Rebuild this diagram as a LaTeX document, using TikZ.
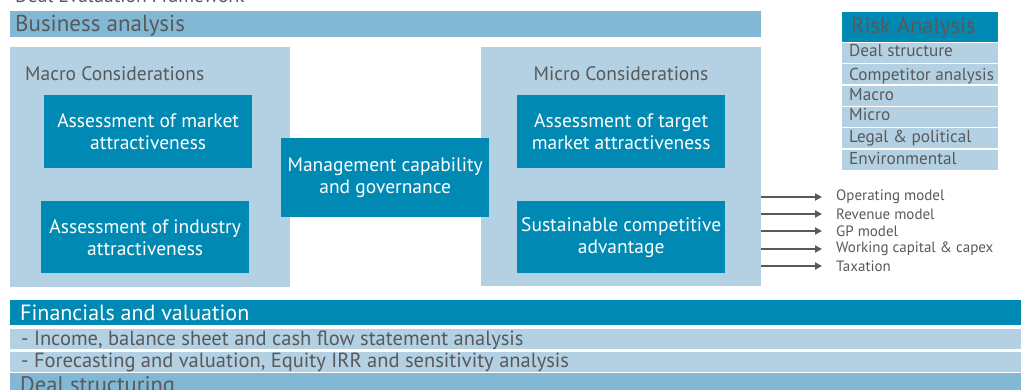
\documentclass[tikz,border=0pt]{standalone}
\usepackage{fontspec}
\setmainfont{PT Sans}
\definecolor{barblue}{HTML}{82B8D4}
\definecolor{paleblue}{HTML}{B3D1E2}
\definecolor{deepblue}{HTML}{0089B3}
\definecolor{inkgrey}{HTML}{58595B}
\newcommand{\fs}[1]{\fontsize{#1}{22}\selectfont}
\tikzset{
  bar/.style={fill=barblue,inner sep=0pt,anchor=north west},
  pale/.style={fill=paleblue,inner sep=0pt,anchor=north west},
  deep/.style={fill=deepblue,inner sep=0pt,anchor=north west},
  boxtext/.style={text=white,align=center,font=\fs{19.5}},
  lbl/.style={text=inkgrey,inner sep=0pt,anchor=base west},
  flow/.style={draw=inkgrey,line width=2.6pt,-{Triangle[length=7pt,width=7pt]},shorten >=14pt}
}
\usetikzlibrary{arrows.meta}
\begin{document}
\begin{tikzpicture}[x=1pt,y=-1pt]
\clip (0,0) rectangle (1021,390);
\useasboundingbox (0,0) rectangle (1021,390);
% heading, cut off by the top edge
\node[lbl,font=\fs{19.5}] (title) at (15,3) {Deal Evaluation Framework};
% business analysis block
\node[bar,minimum width=751pt,minimum height=26pt] (busbar) at (10,11) {};
\node[lbl,font=\fs{23}] (bus) at (15,32) {Business analysis};
\node[pale,minimum width=280pt,minimum height=240pt] (macro) at (10,47) {};
\node[pale,minimum width=280pt,minimum height=239pt] (micro) at (481,47) {};
\node[lbl,font=\fs{19.5}] (macrot) at (25,81) {Macro Considerations};
\node[lbl,font=\fs{19.5},anchor=base] (microt) at (621,81) {Micro Considerations};
\node[deep,minimum width=208pt,minimum height=73pt] (mkt) at (44,95) {};
\node[boxtext] at (mkt.center) {Assessment of market\\attractiveness};
\node[deep,minimum width=208pt,minimum height=72pt] (ind) at (41,201) {};
\node[boxtext] at (ind.center) {Assessment of industry\\attractiveness};
\node[deep,minimum width=208pt,minimum height=79pt] (mgmt) at (281,138) {};
\node[boxtext] at (mgmt.center) {Management capability\\and governance};
\node[deep,minimum width=208pt,minimum height=73pt] (tgt) at (517,95) {};
\node[boxtext] at (tgt.center) {Assessment of target\\market attractiveness};
\node[deep,minimum width=208pt,minimum height=72pt] (sca) at (517,201) {};
\node[boxtext] at (sca.center) {Sustainable competitive\\advantage};
% model outputs
\foreach \y/\n/\t in {197/op/Operating model,214/rev/Revenue model,231/gp/GP model,
    249/wc/Working capital \& capex,266/tax/Taxation}{
  \node[lbl,anchor=west,font=\fs{15}] (\n) at (836,\y) {\t};
  \draw[flow] (micro.east |- \n.west) -- (\n.west);
}
% risk table
\node[deep,minimum width=156pt,minimum height=30pt] (risk) at (842,12) {};
\node[lbl,font=\fs{22.5}] (riskt) at (851,34) {Risk Analysis};
\foreach \a/\b/\tb/\n/\t in {43/62.7/57/r1/Deal structure,64/83.7/80.3/r2/Competitor analysis,
    86/105.7/100.7/r3/Macro,107/127/120.7/r4/Micro,128.3/147.7/142.7/r5/Legal \& political,
    149.7/169.7/164.7/r6/Environmental}{
  \fill[paleblue] (842,\a) rectangle (998,\b);
  \node[lbl,font=\fs{17.2}] (\n) at (849,\tb) {\t};
}
% financials and deal structuring
\node[deep,minimum width=1011pt,minimum height=25pt] (finbar) at (10,300) {};
\node[lbl,text=white,font=\fs{22}] (fin) at (20,320) {Financials and valuation};
\node[pale,minimum width=1011pt,minimum height=20pt] (incbar) at (10,329) {};
\node[lbl,font=\fs{20.5}] (inc) at (21,345) {- Income, balance sheet and cash flow statement analysis};
\node[pale,minimum width=1011pt,minimum height=20pt] (forbar) at (10,352) {};
\node[lbl,font=\fs{20.5}] (for) at (21,367) {- Forecasting and valuation, Equity IRR and sensitivity analysis};
\node[bar,minimum width=1011pt,minimum height=20pt] (dealbar) at (10,373) {};
\node[lbl,font=\fs{22.5}] (deal) at (20,392) {Deal structuring};
\end{tikzpicture}
\end{document}
